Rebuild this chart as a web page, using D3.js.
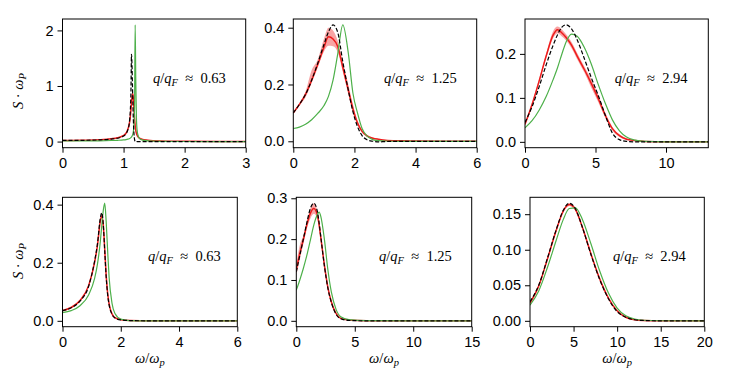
<!DOCTYPE html>
<meta charset="utf-8">
<style>
body { margin: 0; background: #fff; }
svg { font-family: "Liberation Serif", "DejaVu Serif", serif; }
.tick text { font-size: 14.5px; fill: #000; }
.tick line { stroke: #000; stroke-width: 1; }
</style>
<svg width="731" height="383"></svg>
<script src="https://cdn.jsdelivr.net/npm/d3@7"></script>
<script>

// q/qF labels
var qLabels = ["0.63", "1.25", "2.94", "0.63", "1.25", "2.94"];

// panel 1 : top left
var p1_x     = [0,0.3,0.6,0.8,0.9,1.0,1.04,1.07,1.09,1.10,1.11,1.12,1.13,1.14,1.15,1.16,1.17,1.18,1.19,1.20,1.21,1.22,1.24,1.27,1.3,1.4,1.6,2.0,3.0];
var p1_red   = [0.02,0.022,0.032,0.05,0.068,0.11,0.15,0.22,0.3,0.36,0.45,0.56,0.7,0.82,0.86,0.78,0.6,0.42,0.29,0.2,0.15,0.12,0.08,0.055,0.042,0.025,0.012,0.005,0.002];
var p1_hi    = [0.023,0.025,0.035,0.054,0.073,0.116,0.158,0.23,0.315,0.38,0.47,0.59,0.73,0.85,0.89,0.81,0.63,0.44,0.31,0.215,0.162,0.13,0.087,0.06,0.046,0.028,0.014,0.006,0.003];
var p1_lo    = [0.017,0.019,0.029,0.046,0.063,0.104,0.142,0.21,0.285,0.34,0.43,0.53,0.67,0.79,0.83,0.75,0.57,0.4,0.27,0.185,0.138,0.11,0.073,0.05,0.038,0.022,0.01,0.004,0.001];
var p1_black = [0.02,0.022,0.03,0.045,0.06,0.1,0.14,0.21,0.3,0.4,0.55,0.85,1.57,1.3,0.8,0.4,0.15,0.04,0.0,-0.005,-0.003,0,0,0,0,0,0,0,0];
var p1_green = [0.01,0.011,0.014,0.019,0.023,0.03,0.036,0.043,0.05,0.055,0.062,0.072,0.085,0.1,0.13,0.18,0.3,0.65,2.1,1.1,0.45,0.22,0.1,0.05,0.03,0.012,0.004,0.001,0];

// panel 2 : top middle
var p2_x     = [0,0.2,0.4,0.6,0.8,1.0,1.15,1.3,1.45,1.62,1.8,1.95,2.1,2.25,2.4,2.6,2.8,3.0,3.5,4,5,6];
var p2_red   = [0.1,0.13,0.165,0.215,0.27,0.33,0.368,0.36,0.335,0.26,0.18,0.115,0.065,0.035,0.02,0.011,0.007,0.004,0.002,0.001,0,0];
var p2_hi    = [0.105,0.135,0.175,0.25,0.288,0.36,0.40,0.39,0.355,0.28,0.2,0.13,0.073,0.04,0.024,0.013,0.008,0.005,0.002,0.001,0,0];
var p2_lo    = [0.095,0.125,0.155,0.205,0.26,0.315,0.336,0.335,0.315,0.245,0.165,0.1,0.057,0.03,0.016,0.009,0.006,0.003,0.001,0,0,0];
var p2_black = [0.1,0.13,0.165,0.215,0.275,0.34,0.385,0.41,0.385,0.28,0.18,0.105,0.052,0.02,0.006,0,-0.002,-0.001,0,0,0,0];
var p2_green = [0.045,0.05,0.06,0.076,0.098,0.125,0.158,0.215,0.305,0.41,0.31,0.17,0.1,0.045,0.02,0.006,0.002,0.001,0,0,0,0];

// panel 3 : top right
var p3_x     = [0,0.5,1,1.5,2,2.3,2.6,2.9,3.3,3.7,4.2,4.7,5.2,5.7,6.2,6.7,7.2,7.8,8.5,10,13];
var p3_red   = [0.04,0.085,0.138,0.195,0.243,0.255,0.248,0.238,0.22,0.195,0.165,0.133,0.098,0.06,0.03,0.014,0.006,0.003,0.001,0,0];
var p3_hi    = [0.043,0.089,0.143,0.2,0.252,0.262,0.256,0.245,0.227,0.202,0.172,0.143,0.107,0.066,0.034,0.017,0.008,0.004,0.002,0.0005,0];
var p3_lo    = [0.037,0.081,0.133,0.19,0.236,0.247,0.24,0.231,0.213,0.188,0.158,0.123,0.09,0.054,0.026,0.011,0.004,0.002,0.0005,0,0];
var p3_black = [0.044,0.08,0.125,0.175,0.22,0.243,0.26,0.266,0.257,0.232,0.19,0.146,0.105,0.06,0.02,0.005,0.001,0,0,0,0];
var p3_green = [0.032,0.048,0.072,0.103,0.142,0.168,0.198,0.226,0.245,0.24,0.215,0.177,0.13,0.087,0.05,0.025,0.011,0.004,0.001,0,0];

// panel 4 : bottom left
var p4_x     = [0,0.3,0.6,0.9,1.1,1.2,1.3,1.35,1.4,1.45,1.5,1.55,1.6,1.7,1.8,2.0,2.3,3,4,6];
var p4_red   = [0.035,0.046,0.07,0.122,0.2,0.26,0.345,0.36,0.33,0.245,0.155,0.095,0.058,0.024,0.011,0.004,0.001,0,0,0];
var p4_hi    = [0.038,0.049,0.073,0.126,0.205,0.265,0.352,0.367,0.337,0.251,0.16,0.099,0.061,0.026,0.012,0.005,0.0015,0.0005,0,0];
var p4_lo    = [0.032,0.043,0.067,0.118,0.195,0.255,0.338,0.353,0.323,0.239,0.15,0.091,0.055,0.022,0.01,0.003,0.0005,0,0,0];
var p4_black = [0.035,0.045,0.068,0.12,0.205,0.265,0.355,0.372,0.33,0.24,0.15,0.09,0.055,0.022,0.01,0.003,0.001,0,0,0];
var p4_green = [0.028,0.035,0.052,0.09,0.145,0.195,0.275,0.33,0.38,0.405,0.34,0.24,0.15,0.06,0.025,0.006,0.001,0,0,0];

// panel 5 : bottom middle
var p5_x     = [0,0.3,0.6,0.9,1.2,1.5,1.8,1.95,2.1,2.4,2.7,3.0,3.4,3.8,4.5,6,10,15];
var p5_red   = [0.125,0.165,0.198,0.235,0.263,0.275,0.26,0.235,0.203,0.137,0.082,0.046,0.018,0.006,0.002,0,0,0];
var p5_hi    = [0.14,0.185,0.208,0.245,0.275,0.288,0.27,0.245,0.21,0.142,0.086,0.049,0.02,0.007,0.002,0,0,0];
var p5_lo    = [0.11,0.15,0.188,0.225,0.25,0.262,0.25,0.225,0.196,0.132,0.078,0.043,0.016,0.005,0.001,0,0,0];
var p5_black = [0.12,0.16,0.2,0.24,0.275,0.288,0.268,0.24,0.205,0.135,0.08,0.045,0.016,0.005,0.001,0,0,0];
var p5_green = [0.075,0.1,0.128,0.16,0.197,0.235,0.26,0.266,0.255,0.2,0.125,0.07,0.028,0.01,0.003,0.0005,0,0];

// panel 6 : bottom right
var p6_x     = [0,1,2,3,3.8,4.5,5.2,6,7,8,9,10,11,12,13,15,20];
var p6_red   = [0.025,0.049,0.087,0.127,0.154,0.1635,0.157,0.132,0.094,0.059,0.032,0.014,0.005,0.0015,0.0005,0,0];
var p6_hi    = [0.027,0.051,0.089,0.129,0.156,0.1655,0.159,0.134,0.096,0.061,0.033,0.015,0.006,0.002,0.0007,0,0];
var p6_lo    = [0.023,0.047,0.085,0.125,0.152,0.1615,0.155,0.13,0.092,0.057,0.031,0.013,0.004,0.001,0.0003,0,0];
var p6_black = [0.027,0.05,0.088,0.128,0.155,0.1655,0.158,0.132,0.093,0.058,0.031,0.013,0.005,0.0015,0.0005,0,0];
var p6_green = [0.022,0.042,0.075,0.113,0.142,0.158,0.159,0.143,0.108,0.07,0.039,0.018,0.007,0.0025,0.0008,0.0001,0];

// axis limits and ticks
var xMax   = [3, 6, 13, 6, 15, 20];
var xTicks = [[0,1,2,3],[0,2,4,6],[0,5,10],[0,2,4,6],[0,5,10,15],[0,5,10,15,20]];
var yTicks = [[0,1,2],[0,0.2,0.4],[0,0.1,0.2],[0,0.2,0.4],[0,0.1,0.2,0.3],[0,0.05,0.1,0.15]];
var yFmt   = ["d", ".1f", ".1f", ".1f", ".1f", ".2f"];

var series = [
  [p1_x, p1_red, p1_lo, p1_hi, p1_black, p1_green],
  [p2_x, p2_red, p2_lo, p2_hi, p2_black, p2_green],
  [p3_x, p3_red, p3_lo, p3_hi, p3_black, p3_green],
  [p4_x, p4_red, p4_lo, p4_hi, p4_black, p4_green],
  [p5_x, p5_red, p5_lo, p5_hi, p5_black, p5_green],
  [p6_x, p6_red, p6_lo, p6_hi, p6_black, p6_green]
];

// pixel boxes [left, right, top, bottom]
var boxes = [
  [62.5, 245.7, 19, 147.7], [293.3, 476.7, 19, 147.7], [525, 708.3, 19, 147.7],
  [62.5, 237.3, 197.3, 326.7], [296.3, 471.7, 197.3, 326.7], [530, 704.3, 197.3, 326.7]
];
var annFrac = [0.494, 0.495, 0.49, 0.489, 0.472, 0.476];

var svg = d3.select("svg");
svg.append("rect").attr("width", 731).attr("height", 383).attr("fill", "#fff");

var red = "#ee1c1c", green = "#4db04a";

series.forEach(function(s, i) {
  var b = boxes[i];
  var xs = s[0];
  var all = d3.merge([s[1], s[3], s[4], s[5]]);
  var ymax = d3.max(all), ymin = Math.min(0, d3.min(all));
  var pad = (ymax - ymin) * 0.05;

  var x = d3.scaleLinear().domain([0, xMax[i]]).range([b[0], b[1]]);
  var y = d3.scaleLinear().domain([ymin - pad, ymax + pad]).range([b[3], b[2]]);

  var g = svg.append("g");
  var clipId = "clip" + i;
  g.append("clipPath").attr("id", clipId).append("rect")
    .attr("x", b[0]).attr("y", b[2]).attr("width", b[1] - b[0]).attr("height", b[3] - b[2]);

  var plot = g.append("g").attr("clip-path", "url(#" + clipId + ")");

  var idx = d3.range(xs.length);
  var area = d3.area().curve(d3.curveMonotoneX)
    .x(function(k) { return x(xs[k]); })
    .y0(function(k) { return y(s[2][k]); })
    .y1(function(k) { return y(s[3][k]); });
  var line = function(arr) {
    return d3.line().curve(d3.curveMonotoneX)
      .x(function(k) { return x(xs[k]); })
      .y(function(k) { return y(arr[k]); })(idx);
  };

  plot.append("path").attr("d", area(idx)).attr("fill", red).attr("fill-opacity", 0.4);
  plot.append("path").attr("d", line(s[1])).attr("fill", "none").attr("stroke", red).attr("stroke-width", 1.5);
  plot.append("path").attr("d", line(s[5])).attr("fill", "none").attr("stroke", green).attr("stroke-width", 1.2);
  plot.append("path").attr("d", line(s[4])).attr("fill", "none").attr("stroke", "#000")
    .attr("stroke-width", 1.2).attr("stroke-dasharray", "4,2");

  g.append("g").attr("transform", "translate(0," + b[3] + ")")
    .call(d3.axisBottom(x).tickValues(xTicks[i]).tickFormat(d3.format("d")).tickSize(5).tickPadding(5).tickSizeOuter(0))
    .call(function(a) { a.select(".domain").remove(); a.selectAll("text").attr("font-family", null).attr("font-size", null); });
  g.append("g").attr("transform", "translate(" + b[0] + ",0)")
    .call(d3.axisLeft(y).tickValues(yTicks[i]).tickFormat(d3.format(yFmt[i])).tickSize(5).tickPadding(4).tickSizeOuter(0))
    .call(function(a) { a.select(".domain").remove(); a.selectAll("text").attr("font-family", null).attr("font-size", null); });

  g.append("rect").attr("x", b[0]).attr("y", b[2]).attr("width", b[1] - b[0]).attr("height", b[3] - b[2])
    .attr("fill", "none").attr("stroke", "#000").attr("stroke-width", 1);

  // q/qF annotation
  var t = g.append("text").attr("x", b[0] + annFrac[i] * (b[1] - b[0])).attr("y", b[2] + 64).attr("font-size", 14.5);
  t.append("tspan").attr("font-style", "italic").text("q");
  t.append("tspan").text("/");
  t.append("tspan").attr("font-style", "italic").text("q");
  t.append("tspan").attr("font-style", "italic").attr("font-size", 10.5).attr("dy", 3).text("F");
  t.append("tspan").attr("dy", -3).text("\u2002\u2248\u2002" + qLabels[i]);

  // y label on the left column
  if (i % 3 === 0) {
    var cy = i === 0 ? 91 : 261;
    var yl = g.append("text").attr("transform", "translate(23," + cy + ") rotate(-90)")
      .attr("text-anchor", "middle").attr("font-size", 14.5);
    yl.append("tspan").attr("font-style", "italic").text("S");
    yl.append("tspan").text(" \u00b7 ");
    yl.append("tspan").attr("font-style", "italic").text("\u03c9");
    yl.append("tspan").attr("font-style", "italic").attr("font-size", 10.5).attr("dy", 3).text("P");
  }
  // x label on the bottom row
  if (i >= 3) {
    var xl = g.append("text").attr("x", (b[0] + b[1]) / 2).attr("y", 363)
      .attr("text-anchor", "middle").attr("font-size", 14.5);
    xl.append("tspan").attr("font-style", "italic").text("\u03c9");
    xl.append("tspan").text("/");
    xl.append("tspan").attr("font-style", "italic").text("\u03c9");
    xl.append("tspan").attr("font-style", "italic").attr("font-size", 10.5).attr("dy", 3).text("p");
  }
});

</script>
